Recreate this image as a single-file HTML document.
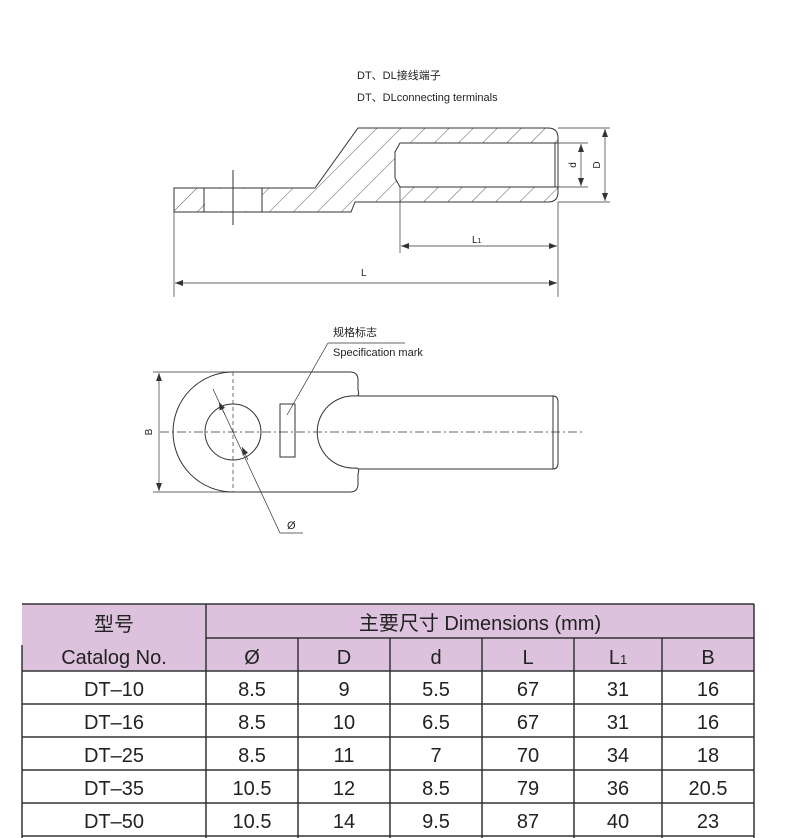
<!DOCTYPE html>
<html><head><meta charset="utf-8"><style>
body{margin:0;background:#fff;}
svg{display:block;}
text{font-family:"Liberation Sans","Noto Sans CJK SC",sans-serif;fill:#222;}
</style></head><body>
<svg width="790" height="838" viewBox="0 0 790 838" xmlns="http://www.w3.org/2000/svg">
<defs>
<pattern id="h" width="17" height="17" patternUnits="userSpaceOnUse" patternTransform="rotate(45)">
<line x1="0" y1="0" x2="0" y2="17" stroke="#333" stroke-width="0.8"/>
</pattern>
<marker id="a" markerWidth="8" markerHeight="6" refX="8" refY="3" orient="auto-start-reverse" markerUnits="userSpaceOnUse">
<path d="M0,0 L8,3 L0,6 Z" fill="#333"/></marker>
</defs>
<text x="357" y="79" font-size="11">DT、DL接线端子</text>
<text x="357" y="101" font-size="11">DT、DLconnecting terminals</text>
<g stroke="#333" stroke-width="1" fill="none">
<path fill="url(#h)" fill-rule="evenodd" d="M174,188 L315,188 L358,128 L548,128 Q558,128 558,138 L558,192 Q558,202 548,202 L355,202 L351,212 L174,212 Z M400,143 L558,143 L558,187 L400,187 L395,178 L395,152 Z"/>
<rect x="205" y="189" width="57" height="22" fill="#fff" stroke="none"/>
<line x1="204" y1="188" x2="204" y2="212"/><line x1="262" y1="188" x2="262" y2="212"/>
<line x1="233" y1="170" x2="233" y2="225"/>
<line x1="555" y1="143" x2="555" y2="187"/>
<line x1="558" y1="128" x2="610" y2="128" stroke-width="0.7"/>
<line x1="558" y1="202" x2="610" y2="202" stroke-width="0.7"/>
<line x1="558" y1="143" x2="588" y2="143" stroke-width="0.7"/>
<line x1="558" y1="187" x2="588" y2="187" stroke-width="0.7"/>
<line x1="605" y1="129" x2="605" y2="201" stroke-width="0.7" marker-start="url(#a)" marker-end="url(#a)"/>
<line x1="581" y1="144" x2="581" y2="186" stroke-width="0.7" marker-start="url(#a)" marker-end="url(#a)"/>
<line x1="400" y1="187" x2="400" y2="253" stroke-width="0.7"/>
<line x1="558" y1="202" x2="558" y2="297" stroke-width="0.7"/>
<line x1="174" y1="212" x2="174" y2="297" stroke-width="0.7"/>
<line x1="401" y1="246" x2="557" y2="246" stroke-width="0.7" marker-start="url(#a)" marker-end="url(#a)"/>
<line x1="175" y1="283" x2="557" y2="283" stroke-width="0.7" marker-start="url(#a)" marker-end="url(#a)"/>
</g>
<text x="0" y="0" font-size="10" transform="translate(576,165) rotate(-90)" text-anchor="middle">d</text>
<text x="0" y="0" font-size="10" transform="translate(600,165) rotate(-90)" text-anchor="middle">D</text>
<text x="472" y="243" font-size="10">L<tspan font-size="7">1</tspan></text>
<text x="361" y="276" font-size="10">L</text>

<text x="333" y="336" font-size="11">规格标志</text>
<text x="333" y="356" font-size="11">Specification mark</text>
<g stroke="#333" stroke-width="1" fill="none">
<line x1="328" y1="343" x2="405" y2="343" stroke-width="0.7"/>
<line x1="328" y1="343" x2="287" y2="415" stroke-width="0.7"/>
<path d="M233,372 L350,372 Q358,372 358,380 L358,390 Q360,396 356,396 A36.1,36.1 0 1 0 356,468 Q360,468 358,474 L358,484 Q358,492 350,492 L233,492 A60,60 0 0 1 233,372 Z"/>
<path d="M358,396 L553,396 Q558,396 558,402 L558,463 Q558,469 553,469 L358,469"/>
<line x1="553" y1="396" x2="553" y2="469"/>
<circle cx="233" cy="432" r="28"/>
<rect x="280" y="404" width="15" height="53"/>
<line x1="160" y1="432" x2="582" y2="432" stroke-width="0.7" stroke-dasharray="9,3,2,3"/>
<line x1="233" y1="372" x2="233" y2="492" stroke-width="0.7" stroke-dasharray="4,3"/>
<line x1="153" y1="372" x2="233" y2="372" stroke-width="0.7"/>
<line x1="153" y1="492" x2="233" y2="492" stroke-width="0.7"/>
<line x1="159" y1="373" x2="159" y2="491" stroke-width="0.7" marker-start="url(#a)" marker-end="url(#a)"/>
<polyline points="213,389 280,533 303,533" stroke-width="0.7"/>
<line x1="225" y1="415" x2="219" y2="402" stroke-width="0.7" marker-end="url(#a)"/>
<line x1="242" y1="447" x2="248" y2="460" stroke-width="0.7" marker-start="url(#a)"/>
</g>
<text x="287" y="529" font-size="11">Ø</text>
<text x="0" y="0" font-size="10" transform="translate(152,432) rotate(-90)" text-anchor="middle">B</text>

<rect x="22" y="604" width="732" height="67" fill="#dcc2dc"/>
<g stroke="#333" stroke-width="1.5" fill="none">
<line x1="22" y1="604" x2="754" y2="604"/>
<line x1="206" y1="638" x2="754" y2="638"/>
<line x1="22" y1="671" x2="754" y2="671"/>
<line x1="22" y1="704" x2="754" y2="704"/>
<line x1="22" y1="737" x2="754" y2="737"/>
<line x1="22" y1="770" x2="754" y2="770"/>
<line x1="22" y1="803" x2="754" y2="803"/>
<line x1="22" y1="836" x2="754" y2="836"/>
<line x1="22" y1="645" x2="22" y2="838"/>
<line x1="206" y1="604" x2="206" y2="838"/>
<line x1="754" y1="604" x2="754" y2="838"/>
<line x1="298" y1="638" x2="298" y2="838"/>
<line x1="390" y1="638" x2="390" y2="838"/>
<line x1="482" y1="638" x2="482" y2="838"/>
<line x1="574" y1="638" x2="574" y2="838"/>
<line x1="662" y1="638" x2="662" y2="838"/>
</g>
<g font-size="20" text-anchor="middle">
<text x="114" y="631">型号</text>
<text x="114" y="664">Catalog No.</text>
<text x="480" y="630">主要尺寸 Dimensions (mm)</text>
<text x="252" y="664">Ø</text><text x="344" y="664">D</text><text x="436" y="664">d</text><text x="528" y="664">L</text><text x="618" y="664">L<tspan font-size="13">1</tspan></text><text x="708" y="664">B</text>
<text x="114" y="696">DT–10</text><text x="252" y="696">8.5</text><text x="344" y="696">9</text><text x="436" y="696">5.5</text><text x="528" y="696">67</text><text x="618" y="696">31</text><text x="708" y="696">16</text>
<text x="114" y="729">DT–16</text><text x="252" y="729">8.5</text><text x="344" y="729">10</text><text x="436" y="729">6.5</text><text x="528" y="729">67</text><text x="618" y="729">31</text><text x="708" y="729">16</text>
<text x="114" y="762">DT–25</text><text x="252" y="762">8.5</text><text x="344" y="762">11</text><text x="436" y="762">7</text><text x="528" y="762">70</text><text x="618" y="762">34</text><text x="708" y="762">18</text>
<text x="114" y="795">DT–35</text><text x="252" y="795">10.5</text><text x="344" y="795">12</text><text x="436" y="795">8.5</text><text x="528" y="795">79</text><text x="618" y="795">36</text><text x="708" y="795">20.5</text>
<text x="114" y="828">DT–50</text><text x="252" y="828">10.5</text><text x="344" y="828">14</text><text x="436" y="828">9.5</text><text x="528" y="828">87</text><text x="618" y="828">40</text><text x="708" y="828">23</text>
</g>
</svg>
</body></html>
